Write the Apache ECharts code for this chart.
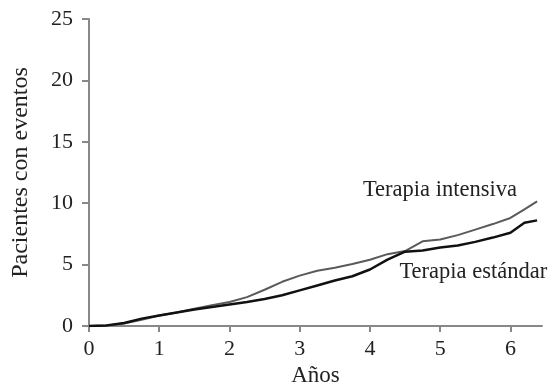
<!DOCTYPE html>
<html>
<head>
<meta charset="utf-8">
<script src="https://cdn.jsdelivr.net/npm/echarts@6/dist/echarts.min.js"></script>
<style>html,body{margin:0;padding:0;background:#fff;}#c{width:550px;height:382px;}</style>
</head>
<body>
<div id="c"></div>
<script>
const years = [0,0.25,0.5,0.75,1,1.25,1.5,1.75,2,2.25,2.5,2.75,3,3.25,3.5,3.75,4,4.25,4.5,4.75,5,5.25,5.5,5.75,6,6.2,6.38];
const intensiva = [0,0.05,0.2,0.5,0.85,1.1,1.4,1.7,1.95,2.35,2.95,3.6,4.1,4.5,4.75,5.05,5.4,5.85,6.1,6.9,7.05,7.4,7.85,8.3,8.8,9.5,10.15];
const estandar = [0,0.05,0.25,0.6,0.85,1.1,1.35,1.55,1.75,1.95,2.2,2.5,2.9,3.3,3.7,4.05,4.6,5.4,6.05,6.15,6.4,6.55,6.85,7.2,7.6,8.4,8.6];
const xTicks = [0,1,2,3,4,5,6];
const yTicks = [0,5,10,15,20,25];
const seriesNames = ['Terapia intensiva','Terapia estándar'];
const xName = 'Años';
const yName = 'Pacientes con eventos';

const font = 'Liberation Serif';
const textColor = '#222';
const chart = echarts.init(document.getElementById('c'));
chart.setOption({
  animation: false,
  grid: {left: 89, right: 8, top: 19, bottom: 56, containLabel: false, outerBoundsMode: 'none'},
  xAxis: {
    type: 'value', min: 0, max: 6.45,
    name: xName, nameLocation: 'middle', nameGap: 27,
    nameTextStyle: {fontFamily: font, fontSize: 23, color: textColor},
    axisLine: {show: true, lineStyle: {color: '#888', width: 2}},
    axisTick: {show: true, length: 6, customValues: xTicks, lineStyle: {color: '#888', width: 2}},
    axisLabel: {customValues: xTicks, fontFamily: font, fontSize: 22, color: textColor, margin: 12},
    splitLine: {show: false}
  },
  yAxis: {
    type: 'value', min: 0, max: 25, interval: 5,
    name: yName, nameLocation: 'middle', nameGap: 56,
    nameTextStyle: {fontFamily: font, fontSize: 24, color: textColor},
    axisLine: {show: true, lineStyle: {color: '#888', width: 2}},
    axisTick: {show: true, length: 7, lineStyle: {color: '#888', width: 2}},
    axisLabel: {fontFamily: font, fontSize: 22, color: textColor, margin: 16},
    splitLine: {show: false}
  },
  series: [
    {
      name: seriesNames[0], type: 'line', symbol: 'none',
      data: years.map((x, i) => [x, intensiva[i]]),
      lineStyle: {color: '#5a5a5a', width: 2},
      markPoint: {
        symbol: 'circle', symbolSize: 0,
        data: [{coord: [3.9, 11.05], value: seriesNames[0]}],
        label: {show: true, position: 'right', distance: 0, formatter: seriesNames[0], fontFamily: font, fontSize: 22.5, color: textColor}
      }
    },
    {
      name: seriesNames[1], type: 'line', symbol: 'none',
      data: years.map((x, i) => [x, estandar[i]]),
      lineStyle: {color: '#111', width: 2.5},
      markPoint: {
        symbol: 'circle', symbolSize: 0,
        data: [{coord: [4.42, 4.39], value: seriesNames[1]}],
        label: {show: true, position: 'right', distance: 0, formatter: seriesNames[1], fontFamily: font, fontSize: 22.5, color: textColor}
      }
    }
  ]
});
</script>
</body>
</html>
